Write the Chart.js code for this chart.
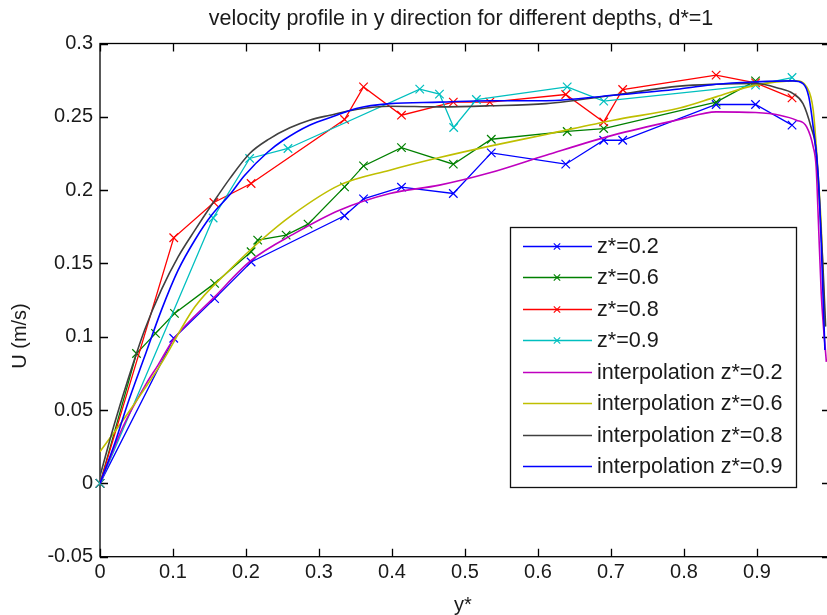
<!DOCTYPE html>
<html>
<head>
<meta charset="utf-8">
<script src="https://cdn.jsdelivr.net/npm/chart.js@4.4.1/dist/chart.umd.min.js"></script>
<style>
  html, body { margin: 0; padding: 0; background: #fff; overflow: hidden; width: 827px; height: 615px; }
  #wrap { position: relative; width: 840px; height: 615px; }
</style>
</head>
<body>
<div id="wrap"><canvas id="c" width="840" height="615"></canvas></div>
<script>
// Measured velocity profiles: y* positions and U (m/s)
const yMeas02 = [0, 0.101, 0.157, 0.207, 0.335, 0.361, 0.413, 0.484, 0.536, 0.638, 0.690, 0.716, 0.844, 0.898, 0.948];
const uMeas02 = [0, 0.099, 0.126, 0.151, 0.1825, 0.194, 0.202, 0.1977, 0.2254, 0.2177, 0.234, 0.234, 0.2584, 0.2584, 0.2443];

const yMeas06 = [0, 0.050, 0.076, 0.102, 0.157, 0.207, 0.216, 0.255, 0.285, 0.335, 0.361, 0.413, 0.484, 0.536, 0.640, 0.690, 0.844, 0.898];
const uMeas06 = [0, 0.0886, 0.1023, 0.1159, 0.1364, 0.158, 0.1659, 0.1693, 0.1768, 0.2022, 0.2165, 0.229, 0.2177, 0.2347, 0.240, 0.242, 0.260, 0.2745];

const yMeas08 = [0, 0.101, 0.156, 0.207, 0.335, 0.361, 0.413, 0.484, 0.534, 0.638, 0.690, 0.716, 0.844, 0.898, 0.948];
const uMeas08 = [0, 0.1675, 0.1916, 0.2045, 0.2482, 0.2704, 0.2511, 0.260, 0.260, 0.2652, 0.2465, 0.2686, 0.2784, 0.2731, 0.2629];

const yMeas09 = [0, 0.155, 0.205, 0.2575, 0.438, 0.465, 0.4845, 0.5156, 0.640, 0.690, 0.898, 0.948];
const uMeas09 = [0, 0.181, 0.2216, 0.2284, 0.2689, 0.2655, 0.2427, 0.2618, 0.2704, 0.2607, 0.2716, 0.2768];

// Interpolated profiles
const yInt02 = [0, 0.0315, 0.0636, 0.0795, 0.100, 0.157, 0.2074, 0.2667, 0.328, 0.397, 0.465, 0.534, 0.611, 0.703, 0.794, 0.844, 0.898, 0.931, 0.954, 0.968, 0.977, 0.981, 0.984, 0.988, 0.995];
const uInt02 = [0, 0.0386, 0.0682, 0.0807, 0.0977, 0.1272, 0.1522, 0.1705, 0.1863, 0.1977, 0.2034, 0.2118, 0.2238, 0.2375, 0.2482, 0.2534, 0.2529, 0.2511, 0.2477, 0.2432, 0.2295, 0.2159, 0.180, 0.1295, 0.0829];

const yInt06 = [0, 0.038, 0.084, 0.130, 0.175, 0.221, 0.263, 0.328, 0.397, 0.465, 0.534, 0.611, 0.703, 0.794, 0.844, 0.898, 0.954, 0.968, 0.977, 0.984, 0.988, 0.993];
const uInt06 = [0.0216, 0.0477, 0.0818, 0.1204, 0.1443, 0.166, 0.183, 0.2034, 0.2136, 0.2222, 0.230, 0.238, 0.2477, 0.256, 0.2636, 0.2716, 0.2745, 0.2704, 0.2545, 0.209, 0.175, 0.107];

const yInt08 = [0, 0.020, 0.038, 0.061, 0.084, 0.107, 0.130, 0.153, 0.178, 0.205, 0.232, 0.260, 0.287, 0.315, 0.351, 0.397, 0.465, 0.534, 0.611, 0.703, 0.794, 0.844, 0.898, 0.931, 0.949, 0.963, 0.974, 0.981, 0.985, 0.990, 0.994];
const uInt08 = [0.005, 0.041, 0.0704, 0.1045, 0.132, 0.1545, 0.1727, 0.190, 0.208, 0.225, 0.235, 0.2425, 0.2477, 0.2511, 0.255, 0.2572, 0.2568, 0.2575, 0.259, 0.2647, 0.2709, 0.2722, 0.2727, 0.2693, 0.266, 0.259, 0.243, 0.227, 0.198, 0.152, 0.107];

const yInt09 = [0, 0.020, 0.038, 0.061, 0.084, 0.107, 0.130, 0.153, 0.178, 0.198, 0.230, 0.251, 0.287, 0.324, 0.351, 0.397, 0.465, 0.534, 0.611, 0.703, 0.794, 0.844, 0.898, 0.949, 0.963, 0.971, 0.977, 0.984, 0.988, 0.993];
const uInt09 = [0, 0.027, 0.0545, 0.0863, 0.118, 0.1454, 0.166, 0.183, 0.197, 0.210, 0.226, 0.234, 0.2443, 0.251, 0.2557, 0.259, 0.260, 0.261, 0.261, 0.2647, 0.269, 0.2722, 0.2738, 0.2745, 0.2727, 0.2636, 0.243, 0.209, 0.1636, 0.091];

// Axis ticks
const xTicks = [0, 0.1, 0.2, 0.3, 0.4, 0.5, 0.6, 0.7, 0.8, 0.9];
const yTicks = [-0.05, 0, 0.05, 0.1, 0.15, 0.2, 0.25, 0.3];

const FONT = '"Liberation Sans", Arial, Helvetica, sans-serif';
const TEXT = '#1a1a1a';

const pts = (xs, ys) => xs.map((v, i) => ({ x: v, y: ys[i] }));

function measured(label, color, xs, ys, order) {
  return {
    label, data: pts(xs, ys), showLine: true, borderColor: color, backgroundColor: color,
    borderWidth: 1.3, pointStyle: 'crossRot', pointRadius: 6, pointBorderWidth: 1.2,
    pointBorderColor: color, tension: 0, clip: false, order, marker: true
  };
}
function interp(label, color, xs, ys, order) {
  return {
    label, data: pts(xs, ys), showLine: true, borderColor: color, backgroundColor: color,
    borderWidth: 1.6, pointRadius: 0, cubicInterpolationMode: 'monotone', order, marker: false
  };
}

const datasets = [
  measured('z*=0.2', '#0000ff', yMeas02, uMeas02, 7),
  measured('z*=0.6', '#008000', yMeas06, uMeas06, 6),
  measured('z*=0.8', '#ff0000', yMeas08, uMeas08, 5),
  measured('z*=0.9', '#00bfbf', yMeas09, uMeas09, 4),
  interp('interpolation z*=0.2', '#bf00bf', yInt02, uInt02, 3),
  interp('interpolation z*=0.6', '#bfbf00', yInt06, uInt06, 2),
  interp('interpolation z*=0.8', '#404040', yInt08, uInt08, 1),
  interp('interpolation z*=0.9', '#0000ff', yInt09, uInt09, 0)
];

function fmt(v) { return String(parseFloat(Number(v).toFixed(2))); }

// Axes box with inward ticks, titles and the legend
const frame = {
  id: 'frame',
  beforeDatasetsDraw(chart) {
    const { ctx, chartArea: a, scales: { x, y } } = chart;
    ctx.save();
    ctx.strokeStyle = '#000';
    ctx.lineWidth = 1.3;
    ctx.strokeRect(a.left, a.top, a.right - a.left, a.bottom - a.top);
    const tl = 8;
    ctx.beginPath();
    xTicks.forEach(v => {
      const px = Math.round(x.getPixelForValue(v)) + 0.5;
      ctx.moveTo(px, a.bottom); ctx.lineTo(px, a.bottom - tl);
      ctx.moveTo(px, a.top); ctx.lineTo(px, a.top + tl);
    });
    yTicks.forEach(v => {
      const py = Math.round(y.getPixelForValue(v)) + 0.5;
      ctx.moveTo(a.left, py); ctx.lineTo(a.left + tl, py);
      ctx.moveTo(a.right, py); ctx.lineTo(a.right - tl, py);
    });
    ctx.stroke();
    ctx.restore();
  },
  afterDraw(chart) {
    const { ctx } = chart;
    ctx.save();
    ctx.fillStyle = TEXT;
    ctx.textAlign = 'center';
    ctx.textBaseline = 'alphabetic';
    ctx.font = '21.5px ' + FONT;
    ctx.fillText('velocity profile in y direction for different depths, d*=1', 461, 25);
    ctx.font = '20px ' + FONT;
    ctx.fillText('y*', 463, 611);
    ctx.translate(26, 336);
    ctx.rotate(-Math.PI / 2);
    ctx.fillText('U (m/s)', 0, 0);
    ctx.restore();

    // legend box
    const bx = 510.5, by = 227.5, bw = 286, bh = 260;
    ctx.save();
    ctx.fillStyle = '#fff';
    ctx.fillRect(bx, by, bw, bh);
    ctx.strokeStyle = '#111';
    ctx.lineWidth = 1.3;
    ctx.strokeRect(bx, by, bw, bh);
    ctx.font = '21.6px ' + FONT;
    ctx.textAlign = 'left';
    ctx.textBaseline = 'middle';
    chart.data.datasets.forEach((ds, i) => {
      const cy = Math.round(246 + i * 31.43) + 0.5;
      ctx.strokeStyle = ds.borderColor;
      ctx.lineWidth = 1.4;
      ctx.beginPath();
      ctx.moveTo(523, cy); ctx.lineTo(592, cy);
      ctx.stroke();
      if (ds.marker) {
        const r = 3.2, cx = 557;
        ctx.lineWidth = 1.1;
        ctx.beginPath();
        ctx.moveTo(cx - r, cy - r); ctx.lineTo(cx + r, cy + r);
        ctx.moveTo(cx - r, cy + r); ctx.lineTo(cx + r, cy - r);
        ctx.stroke();
      }
      ctx.fillStyle = TEXT;
      ctx.fillText(ds.label, 597, cy + 1);
    });
    ctx.restore();
  }
};

new Chart(document.getElementById('c'), {
  type: 'scatter',
  data: { datasets },
  options: {
    responsive: false,
    animation: false,
    devicePixelRatio: 1,
    layout: { padding: { left: 0, right: 10, top: 43.5, bottom: 18.3 } },
    plugins: { legend: { display: false }, tooltip: { enabled: false }, title: { display: false } },
    scales: {
      x: {
        type: 'linear', min: 0, max: 1,
        afterBuildTicks: s => { s.ticks = xTicks.map(v => ({ value: v })); },
        afterFit: s => { s.height = 40; },
        grid: { display: false, drawTicks: false },
        border: { display: false },
        ticks: { color: TEXT, font: { family: FONT, size: 20 }, padding: 4, maxRotation: 0, autoSkip: false, callback: v => fmt(v) }
      },
      y: {
        type: 'linear', min: -0.05, max: 0.3,
        afterBuildTicks: s => { s.ticks = yTicks.map(v => ({ value: v })); },
        afterFit: s => { s.width = 100; },
        grid: { display: false, drawTicks: false },
        border: { display: false },
        ticks: { color: TEXT, font: { family: FONT, size: 20 }, padding: 7, autoSkip: false, callback: v => fmt(v) }
      }
    }
  },
  plugins: [frame]
});
</script>
</body>
</html>
